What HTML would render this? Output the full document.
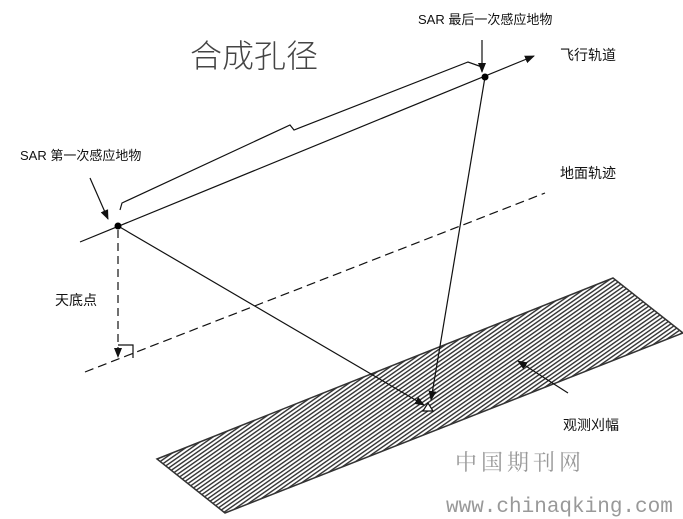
<!DOCTYPE html>
<html><head><meta charset="utf-8"><style>
body{margin:0;background:#fff;}
svg{display:block;}
</style></head><body>
<svg width="683" height="519" viewBox="0 0 683 519" xmlns="http://www.w3.org/2000/svg" style="font-family:'Liberation Sans','Noto Sans CJK SC',sans-serif">
<defs>
<pattern id="h" width="3.4" height="3.4" patternUnits="userSpaceOnUse" patternTransform="rotate(55)">
<rect width="3.4" height="3.4" fill="#fff"/>
<rect width="1.4" height="3.4" fill="#333"/>
</pattern>
<marker id="a" markerWidth="10" markerHeight="10" refX="9" refY="5" orient="auto" markerUnits="userSpaceOnUse">
<path d="M0,1 L10,5 L0,9 Z" fill="#111"/>
</marker>
</defs>
<polygon points="157,459 613,278 683,333 225,513" fill="url(#h)" stroke="#333" stroke-width="1.5"/>
<text x="190" y="67" font-size="32" fill="#444" style="font-weight:300">合成孔径</text>
<text x="418" y="24" font-size="13" fill="#111">SAR 最后一次感应地物</text>
<text x="20" y="160" font-size="13" fill="#111">SAR 第一次感应地物</text>
<text x="560" y="60" font-size="14" fill="#111">飞行轨道</text>
<text x="560" y="178" font-size="14" fill="#111">地面轨迹</text>
<text x="55" y="305" font-size="14" fill="#111">天底点</text>
<text x="563" y="430" font-size="14" fill="#111">观测刈幅</text>
<text x="455" y="470" font-size="22" fill="#999" style="font-family:'Noto Serif CJK SC',serif" letter-spacing="4">中国期刊网</text>
<text x="446" y="512" font-size="21" fill="#999" style="font-family:'Liberation Mono',monospace">www.chinaqking.com</text>
<g stroke="#111" stroke-width="1.2" fill="none">
<line x1="80" y1="242" x2="534" y2="56" marker-end="url(#a)"/>
<path d="M120,210 L122,203 L290,125 L294,130 L468,62 L482,67"/>
<line x1="482" y1="40" x2="482" y2="72" marker-end="url(#a)"/>
<line x1="90" y1="178" x2="108" y2="219" marker-end="url(#a)"/>
<line x1="85" y1="372" x2="545" y2="193" stroke-dasharray="9,5"/>
<line x1="118" y1="230" x2="118" y2="357" stroke-dasharray="8,5" marker-end="url(#a)"/>
<path d="M118,345 L133,345 L133,358"/>
<line x1="118" y1="226" x2="424" y2="405" marker-end="url(#a)"/>
<line x1="485" y1="77" x2="431" y2="400" marker-end="url(#a)"/>
<line x1="568" y1="393" x2="518" y2="361" marker-end="url(#a)"/>
</g>
<polygon points="428,403 423,411 433,411" fill="#fff" stroke="#111" stroke-width="1.2"/>
<circle cx="118" cy="226" r="3.5" fill="#000"/>
<circle cx="485" cy="77" r="3.5" fill="#000"/>
</svg>
</body></html>
